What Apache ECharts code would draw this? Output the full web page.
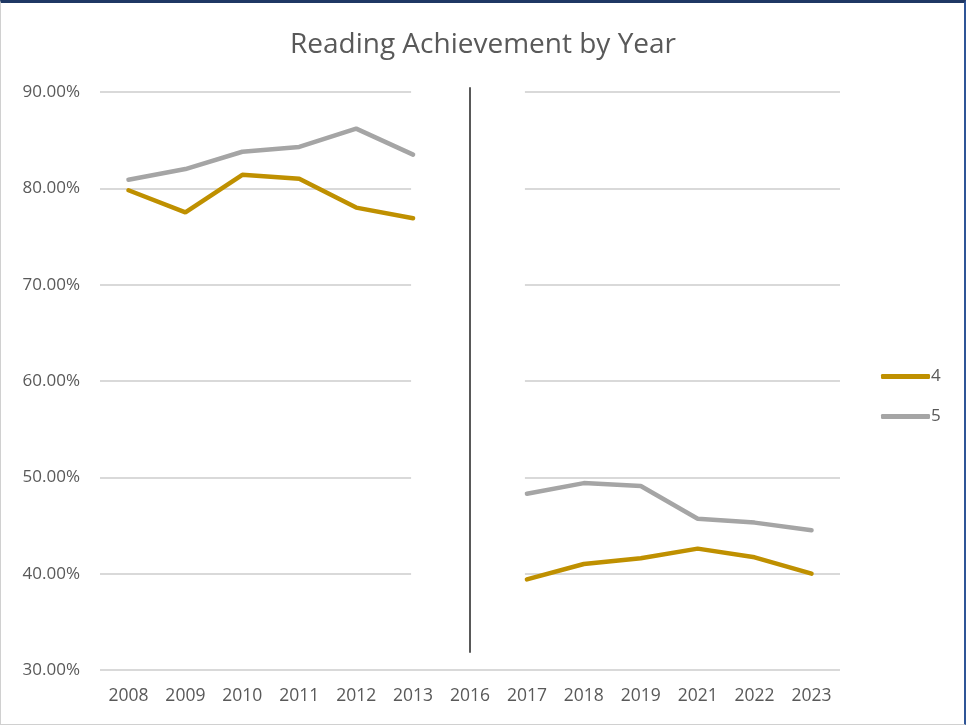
<!DOCTYPE html>
<html>
<head>
<meta charset="utf-8">
<script src="https://cdn.jsdelivr.net/npm/echarts@6/dist/echarts.min.js"></script>
<style>
  html, body { margin: 0; padding: 0; background: #fff; }
  #frame {
    position: absolute; left: 0; top: 0; width: 966px; height: 725px;
    box-sizing: border-box;
    border-top: 3px solid #1f3864;
    border-right: 2px solid #2f5597;
    border-left: 1px solid #d0d0d0;
    border-bottom: 1px solid #d0d0d0;
  }
  #chart { position: absolute; left: 0; top: 0; width: 966px; height: 725px; }
</style>
</head>
<body>
<div id="frame"></div>
<div id="chart"></div>
<script>
// School years shown on the category axis (2014, 2015 and 2020 have no results)
const years = ['2008', '2009', '2010', '2011', '2012', '2013', '2016', '2017', '2018', '2019', '2021', '2022', '2023'];

// Percent of students meeting the reading standard, by grade
const grade4 = [79.8, 77.5, 81.4, 81.0, 78.0, 76.9, null, 39.4, 41.0, 41.6, 42.6, 41.7, 40.0];
const grade5 = [80.9, 82.0, 83.8, 84.3, 86.2, 83.5, null, 48.3, 49.4, 49.1, 45.7, 45.3, 44.5];

// Value-axis range and step (percent)
const yMin = 30, yMax = 90, yStep = 10;

// Assessment change: blank band over the gridlines and a divider at 2016
const breakFrom = '2013', breakTo = '2017', breakYear = '2016';
const breakBand = [30.6, 90.8];
const dividerSpan = [31.8, 90.5];

const chart = echarts.init(document.getElementById('chart'), null, { renderer: 'canvas' });
const textColor = '#595959';
const font = 'Open Sans';

// Draws the blank band and the divider, positioned through the axes
function renderBreak(params, api) {
  const a = api.coord([breakFrom, breakBand[1]]);
  const b = api.coord([breakTo, breakBand[0]]);
  const top = api.coord([breakYear, dividerSpan[1]]);
  const bottom = api.coord([breakYear, dividerSpan[0]]);
  return {
    type: 'group',
    children: [
      {
        type: 'rect',
        shape: { x: a[0] - 2, y: a[1], width: b[0] - a[0], height: b[1] - a[1] },
        style: { fill: '#ffffff' }
      },
      {
        type: 'line',
        shape: { x1: top[0], y1: top[1], x2: bottom[0], y2: bottom[1] },
        style: { stroke: '#595959', lineWidth: 2 }
      }
    ]
  };
}

chart.setOption({
  animation: false,
  backgroundColor: 'transparent',
  title: {
    text: 'Reading Achievement by Year',
    left: 'center',
    top: 26,
    textStyle: { fontFamily: font, fontSize: 28, fontWeight: 'normal', color: textColor }
  },
  legend: {
    data: ['4', '5'],
    orient: 'vertical',
    left: 876,
    top: 363,
    icon: 'roundRect',
    itemWidth: 49,
    itemHeight: 5,
    itemGap: 23,
    textStyle: { fontFamily: font, fontSize: 17, color: textColor, padding: [0, 0, 0, -4] }
  },
  grid: { left: 100, right: 126, top: 92, bottom: 55 },
  xAxis: {
    type: 'category',
    data: years,
    boundaryGap: true,
    axisLine: { show: false },
    axisTick: { show: false },
    axisLabel: { fontFamily: font, fontSize: 17.5, color: textColor, margin: 17 }
  },
  yAxis: {
    type: 'value',
    min: yMin,
    max: yMax,
    interval: yStep,
    axisLine: { show: false },
    axisTick: { show: false },
    axisLabel: {
      fontFamily: font, fontSize: 17, color: textColor, margin: 20,
      formatter: v => v.toFixed(2) + '%'
    },
    splitLine: { lineStyle: { color: '#d9d9d9', width: 2 } }
  },
  series: [
    {
      name: 'break',
      type: 'custom',
      z: 1,
      silent: true,
      clip: false,
      renderItem: renderBreak,
      data: [[breakYear, dividerSpan[0]]]
    },
    {
      name: '4',
      type: 'line',
      data: grade4,
      z: 3,
      symbol: 'none',
      connectNulls: false,
      lineStyle: { color: '#bf9000', width: 4.5, cap: 'round' },
      itemStyle: { color: '#bf9000' }
    },
    {
      name: '5',
      type: 'line',
      data: grade5,
      z: 3,
      symbol: 'none',
      connectNulls: false,
      lineStyle: { color: '#a5a5a5', width: 4.5, cap: 'round' },
      itemStyle: { color: '#a5a5a5' }
    }
  ]
});
</script>
</body>
</html>
